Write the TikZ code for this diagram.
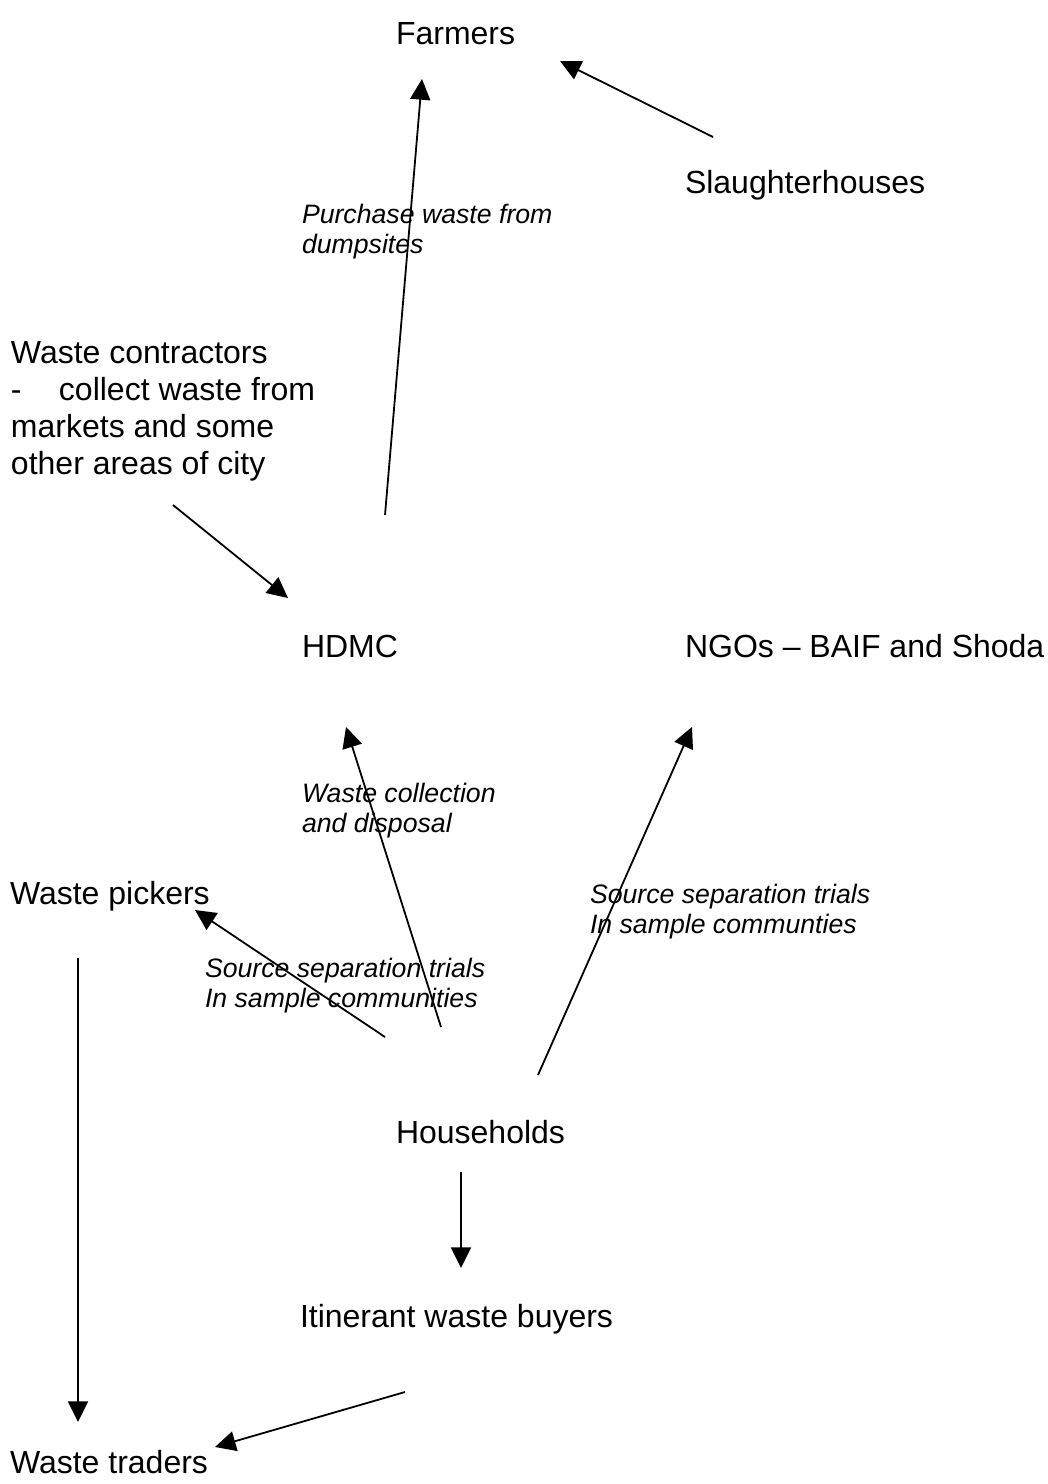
\documentclass[tikz,border=0pt]{standalone}
\usepackage{fontspec}
\setmainfont{Liberation Sans}
\usetikzlibrary{arrows.meta}
\begin{document}
\begin{tikzpicture}[x=0.75pt,y=-0.75pt,
  actor/.style={anchor=base west,inner sep=0pt,outer sep=0pt,font=\fontsize{24}{27.75}\selectfont},
  flowlabel/.style={anchor=base west,inner sep=0pt,outer sep=0pt,font=\fontsize{20}{22.9}\selectfont\itshape},
  flow/.style={line width=1.35pt,-{Triangle[length=15.5pt,width=15pt]}}]
\useasboundingbox (0,0) rectangle (1048,1484);
% actors
\node[actor] (farmers) at (396,45) {Farmers};
\node[actor] (slaughter) at (685,193) {Slaughterhouses};
\node[actor] (contractors) at (11,363) {\vtop{\baselineskip=27.75pt
  \hbox{Waste contractors}
  \hbox{\makebox[36pt][l]{-}collect waste from}
  \hbox{markets and some}
  \hbox{other areas of city}}};
\node[actor] (hdmc) at (302,657) {HDMC};
\node[actor] (ngos) at (685,657) {NGOs -- BAIF and Shoda};
\node[actor] (pickers) at (10,904) {Waste pickers};
\node[actor] (households) at (396,1143) {Households};
\node[actor] (iwb) at (300,1327) {Itinerant waste buyers};
\node[actor] (traders) at (10,1473) {Waste traders};
% labels
\node[flowlabel] (lpurchase) at (302,223) {\vtop{\baselineskip=22.5pt
  \hbox{Purchase waste from}\hbox{dumpsites}}};
\node[flowlabel] (lcollect) at (302,802) {\vtop{\baselineskip=22.5pt
  \hbox{Waste collection}\hbox{and disposal}}};
\node[flowlabel] (lsepright) at (590,903) {\vtop{\baselineskip=22.5pt
  \hbox{Source separation trials}\hbox{In sample communties}}};
\node[flowlabel] (lsepleft) at (205,977) {\vtop{\baselineskip=22.5pt
  \hbox{Source separation trials}\hbox{In sample communities}}};
% connector ends
\coordinate (hdmc-up) at (385,515);
\coordinate (farmers-in1) at (422,79);
\coordinate (slaughter-out) at (713,137);
\coordinate (farmers-in2) at (560,61);
\coordinate (contractors-out) at (173,505);
\coordinate (hdmc-in1) at (288,598);
\coordinate (households-out1) at (441,1027);
\coordinate (hdmc-in2) at (346,727);
\coordinate (households-out2) at (538,1075);
\coordinate (ngos-in) at (692,727);
\coordinate (households-out3) at (385,1037);
\coordinate (pickers-in) at (195,910);
\coordinate (households-out4) at (461,1172);
\coordinate (iwb-in) at (461,1268);
\coordinate (pickers-out) at (78,958);
\coordinate (traders-in1) at (78,1422);
\coordinate (iwb-out) at (405,1392);
\coordinate (traders-in2) at (215,1447);
% connectors
\draw[flow] (hdmc-up) -- (farmers-in1);
\draw[flow] (slaughter-out) -- (farmers-in2);
\draw[flow] (contractors-out) -- (hdmc-in1);
\draw[flow] (households-out1) -- (hdmc-in2);
\draw[flow] (households-out2) -- (ngos-in);
\draw[flow] (households-out3) -- (pickers-in);
\draw[flow] (households-out4) -- (iwb-in);
\draw[flow] (pickers-out) -- (traders-in1);
\draw[flow] (iwb-out) -- (traders-in2);
\end{tikzpicture}
\end{document}
